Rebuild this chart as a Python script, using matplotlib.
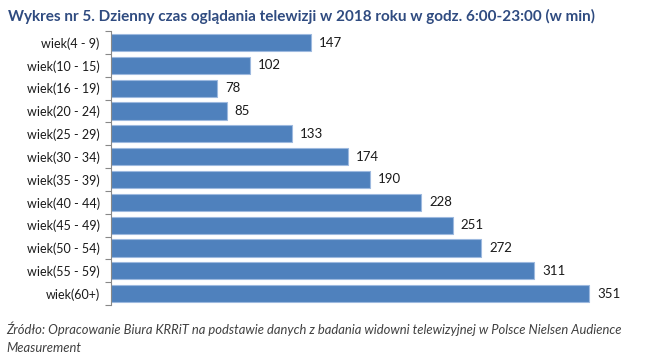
import numpy as np
import matplotlib.pyplot as plt

plt.rcParams['font.family'] = ['Lato', 'DejaVu Sans']

# dane z wykresu
grupy = ['wiek(4 - 9)', 'wiek(10 - 15)', 'wiek(16 - 19)', 'wiek(20 - 24)',
         'wiek(25 - 29)', 'wiek(30 - 34)', 'wiek(35 - 39)', 'wiek(40 - 44)',
         'wiek(45 - 49)', 'wiek(50 - 54)', 'wiek(55 - 59)', 'wiek(60+)']
minuty = [147, 102, 78, 85, 133, 174, 190, 228, 251, 272, 311, 351]

fig = plt.figure(figsize=(6.45, 3.58), dpi=100)
ax = fig.add_axes([0.172, 0.148, 0.80, 0.765])

y = np.arange(len(grupy))
ax.barh(y, minuty, height=0.75, color='#4F81BD', edgecolor='#9DB9DF', linewidth=0.8)
for yi, v in zip(y, minuty):
    ax.text(v + 6, yi, str(v), va='center', ha='left', fontsize=9.5, color='#1a1a1a')

ax.set_xlim(0, 379)
ax.set_ylim(len(grupy) - 0.5, -0.5)
ax.set_yticks(y)
ax.set_yticklabels(grupy, fontsize=9, color='#1a1a1a')
ax.tick_params(axis='y', which='major', length=0, pad=8)
ax.set_yticks(np.arange(-0.5, len(grupy)), minor=True)
ax.tick_params(axis='y', which='minor', length=4, color='#888888', width=0.8)
ax.set_xticks([])
for s in ['top', 'right', 'bottom']:
    ax.spines[s].set_visible(False)
ax.spines['left'].set_color('#888888')
ax.spines['left'].set_linewidth(0.8)

fig.text(0.012, 0.955, 'Wykres nr 5. Dzienny czas oglądania telewizji w 2018 roku w godz. 6:00-23:00 (w min)',
         fontsize=11, fontweight='bold', color='#2F4B80', va='center')
fig.text(0.010, 0.082, 'Źródło: Opracowanie Biura KRRiT na podstawie danych z badania widowni telewizyjnej w Polsce Nielsen Audience',
         fontsize=9.4, style='italic', color='#404040', va='center')
fig.text(0.010, 0.028, 'Measurement', fontsize=9.4, style='italic', color='#404040', va='center')

fig.savefig('out.png', dpi=100)
